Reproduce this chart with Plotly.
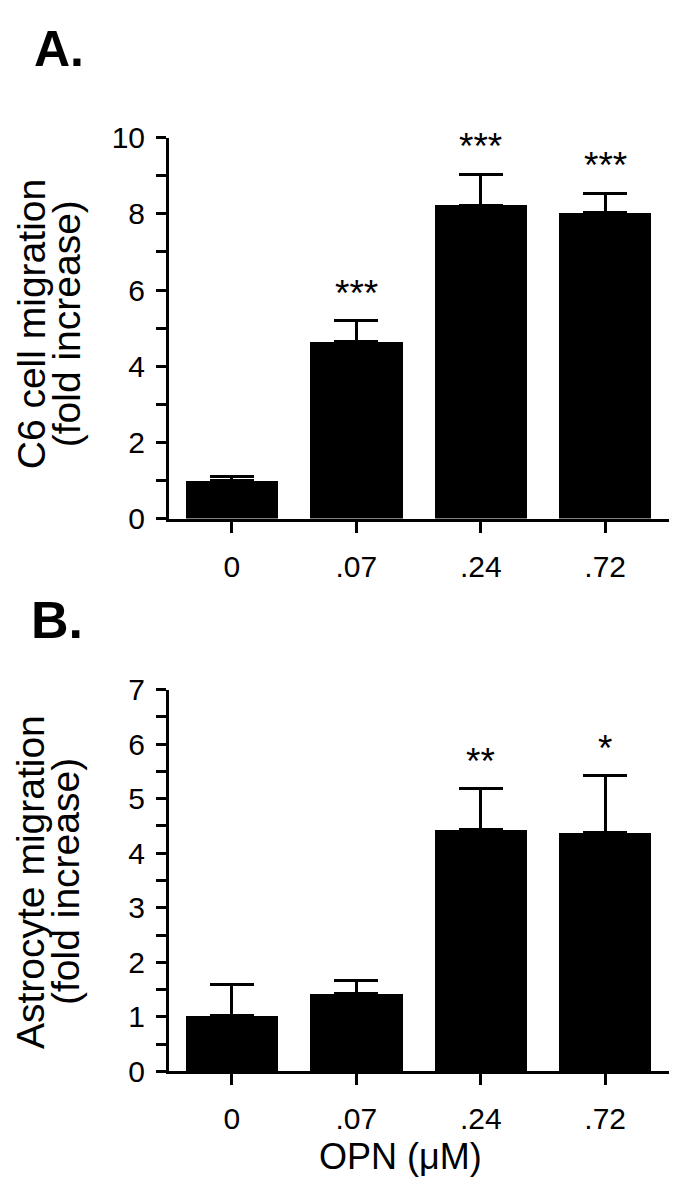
import plotly.graph_objects as go

# ---- data ----
categories = ["0", ".07", ".24", ".72"]
c6_mean = [1.0, 4.64, 8.23, 8.04]
c6_err = [0.10, 0.55, 0.81, 0.50]
c6_sig = ["", "***", "***", "***"]
astro_mean = [1.02, 1.43, 4.43, 4.38]
astro_err = [0.57, 0.24, 0.75, 1.04]
astro_sig = ["", "", "**", "*"]
c6_ticks = [0, 2, 4, 6, 8, 10]
astro_ticks = [0, 1, 2, 3, 4, 5, 6, 7]

W, H = 677, 1199
FONT = "Liberation Sans, Arial, Helvetica, sans-serif"

def px_x(p):
    return p / W

def px_y(p):
    return 1 - p / H

fig = go.Figure()

for mean, err, xa, ya in [(c6_mean, c6_err, "x", "y"), (astro_mean, astro_err, "x2", "y2")]:
    fig.add_trace(go.Bar(
        x=categories, y=mean, xaxis=xa, yaxis=ya,
        marker=dict(color="black", line=dict(width=0)),
        width=0.743,
        error_y=dict(type="data", array=err, arrayminus=[0] * len(err), symmetric=False,
                     color="black", thickness=3, width=22),
        showlegend=False, hoverinfo="skip",
    ))

xdom = [px_x(161), px_x(662)]
common_x = dict(
    type="category", range=[-0.506, 3.521], showline=True, linecolor="black", linewidth=3,
    ticks="outside", ticklen=11, tickwidth=3, tickcolor="black", ticklabelstandoff=8,
    tickfont=dict(family=FONT, size=30, color="black"),
    showgrid=False, zeroline=False, fixedrange=True,
)
common_y = dict(
    showline=True, linecolor="black", linewidth=3,
    ticks="outside", ticklen=10, tickwidth=3, tickcolor="black", ticklabelstandoff=5,
    tickfont=dict(family=FONT, size=30, color="black"),
    showgrid=False, zeroline=False, fixedrange=True,
)

fig.update_layout(
    width=W, height=H, margin=dict(l=0, r=0, t=0, b=0),
    paper_bgcolor="white", plot_bgcolor="white",
    bargap=0,
    xaxis=dict(common_x, anchor="y", domain=xdom),
    yaxis=dict(common_y, anchor="x", domain=[px_y(508), px_y(116)], range=[0, 10],
               tickvals=c6_ticks, minor=dict(dtick=1, ticks="outside", ticklen=10, tickwidth=3, tickcolor="black")),
    xaxis2=dict(common_x, anchor="y2", domain=xdom),
    yaxis2=dict(common_y, anchor="x2", domain=[px_y(1077), px_y(684)], range=[0, 7],
                tickvals=astro_ticks, minor=dict(dtick=0.5, ticks="outside", ticklen=10, tickwidth=3, tickcolor="black")),
)

ann = []
for sig, mean, err, xr, yr in [(c6_sig, c6_mean, c6_err, "x", "y"), (astro_sig, astro_mean, astro_err, "x2", "y2")]:
    for i, (s, m, e) in enumerate(zip(sig, mean, err)):
        if s:
            ann.append(dict(x=i, y=m + e, xref=xr, yref=yr, text=s, showarrow=False,
                            yanchor="bottom", yshift=5,
                            font=dict(family=FONT, size=37, color="black")))

# panel letters
ann.append(dict(x=px_x(24), y=px_y(25), xref="paper", yref="paper", text="<b>A.</b>", showarrow=False,
                xanchor="left", yanchor="middle", font=dict(family=FONT, size=50, color="black")))
ann.append(dict(x=px_x(21), y=px_y(612), xref="paper", yref="paper", text="<b>B.</b>", showarrow=False,
                xanchor="left", yanchor="middle", font=dict(family=FONT, size=52, color="black")))
# axis titles (one annotation per line)
for txt, xc, yc in [("C6 cell migration", 23, 308), ("(fold increase)", 58, 308),
                    ("Astrocyte migration", 23, 882), ("(fold increase)", 58, 882)]:
    ann.append(dict(x=px_x(xc), y=px_y(yc), xref="paper", yref="paper",
                    text=txt, textangle=-90, showarrow=False,
                    xanchor="center", yanchor="middle", font=dict(family=FONT, size=39, color="black")))
ann.append(dict(x=px_x(392), y=px_y(1165), xref="paper", yref="paper",
                text="OPN (μM)", showarrow=False,
                xanchor="center", yanchor="middle", font=dict(family=FONT, size=36, color="black")))

fig.update_layout(annotations=ann)
fig.write_html("out.html")
